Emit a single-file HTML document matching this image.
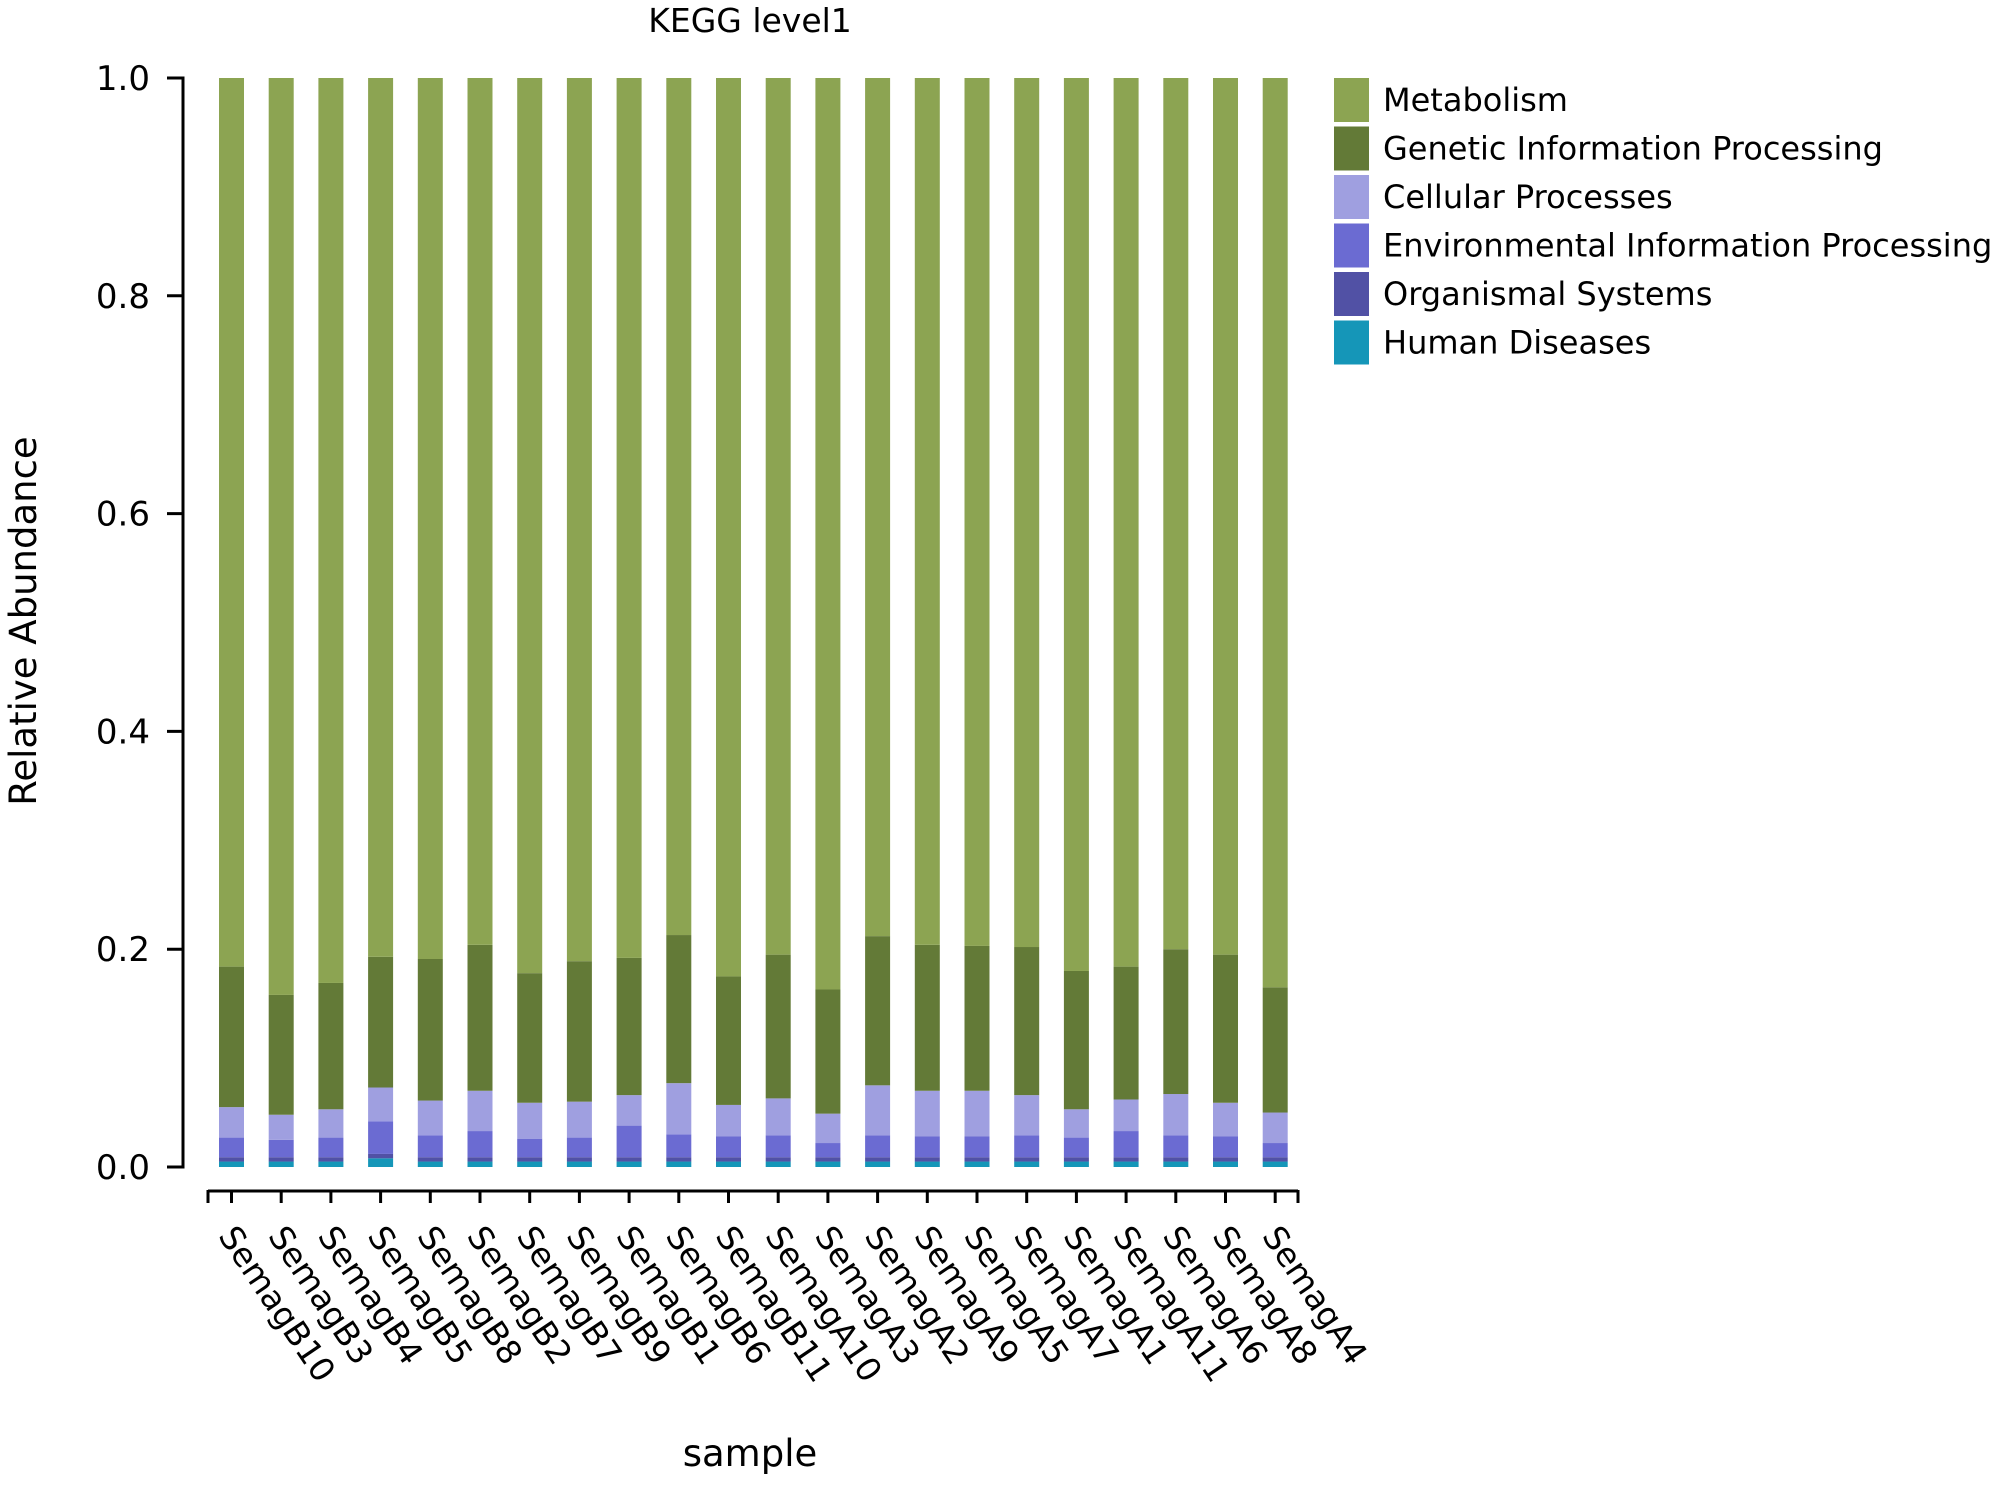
<!DOCTYPE html>
<html><head><meta charset="utf-8"><style>
html,body{margin:0;padding:0;background:#fff;}
svg{display:block;font-family:"DejaVu Sans","Liberation Sans",sans-serif;}
</style></head><body>
<svg id="chart" width="2000" height="1485" viewBox="0 0 2000 1485" xmlns="http://www.w3.org/2000/svg">
<text x="750" y="32" font-size="33" text-anchor="middle">KEGG level1</text>
<text transform="translate(36,621) rotate(-90)" font-size="37" text-anchor="middle">Relative Abundance</text>
<text x="750" y="1466" font-size="37" text-anchor="middle">sample</text>
<g id="bars"></g>
<g id="yaxis"></g>
<g id="xaxis"></g>
<g id="legend"></g>
</svg>
<script>
const samples = ["SemagB10","SemagB3","SemagB4","SemagB5","SemagB8","SemagB2","SemagB7","SemagB9","SemagB1","SemagB6","SemagB11","SemagA10","SemagA3","SemagA2","SemagA9","SemagA5","SemagA7","SemagA1","SemagA11","SemagA6","SemagA8","SemagA4"];
const seriesNames = ["Metabolism","Genetic Information Processing","Cellular Processes","Environmental Information Processing","Organismal Systems","Human Diseases"];
const metabolism = [.816,.842,.831,.807,.809,.796,.822,.811,.808,.787,.825,.805,.837,.788,.796,.797,.798,.820,.816,.800,.805,.835];
const genetic = [.129,.110,.116,.120,.130,.134,.119,.129,.126,.136,.118,.132,.114,.137,.134,.133,.136,.127,.122,.133,.136,.115];
const cellular = [.028,.023,.026,.031,.032,.037,.033,.033,.028,.047,.029,.034,.027,.046,.042,.042,.037,.026,.029,.038,.031,.028];
const environmental = [.018,.016,.018,.030,.020,.024,.017,.018,.029,.021,.019,.020,.013,.020,.019,.019,.020,.018,.024,.020,.019,.013];
const organismal = [.004,.004,.004,.004,.004,.004,.004,.004,.004,.004,.004,.004,.004,.004,.004,.004,.004,.004,.004,.004,.004,.004];
const human = [.005,.005,.005,.008,.005,.005,.005,.005,.005,.005,.005,.005,.005,.005,.005,.005,.005,.005,.005,.005,.005,.005];
const yTicks = [0,0.2,0.4,0.6,0.8,1.0];
const yTickLabels = ["0.0","0.2","0.4","0.6","0.8","1.0"];

const NS="http://www.w3.org/2000/svg";
const colors=["#8ca452","#637a37","#9f9fe0","#6b6bd2","#5151a5","#1596b8"];
const series=[human,organismal,environmental,cellular,genetic,metabolism];
const seriesIdx=[5,4,3,2,1,0];
const y0=1167,y1=78;
function yScale(v){return y0-(y0-y1)*v;}
const x0=231.5,step=49.7,bw=25;
function xScale(i){return x0+i*step;}
function mk(tag,attrs,parent){const e=document.createElementNS(NS,tag);for(const k in attrs)e.setAttribute(k,attrs[k]);parent.appendChild(e);return e;}

const gb=document.getElementById('bars');
samples.forEach((s,i)=>{
  let total=0; series.forEach(a=>total+=a[i]);
  let cum=0;
  series.forEach((a,k)=>{
    const v=a[i]/total;
    const r=mk('rect',{x:xScale(i)-bw/2,y:yScale(cum+v),width:bw,height:yScale(cum)-yScale(cum+v),fill:colors[seriesIdx[k]]},gb);
    
    
    cum+=v;
  });
});

const gy=document.getElementById('yaxis');
const yl=mk('line',{x1:183,y1:yScale(1),x2:183,y2:yScale(0),stroke:'#000','stroke-width':3},gy);


yTicks.forEach((t,i)=>{
  const tk=mk('line',{x1:167,x2:184.5,y1:yScale(t),y2:yScale(t),stroke:'#000','stroke-width':3},gy);
  
  
  const tx=mk('text',{x:150,y:yScale(t)+12,'font-size':34,'text-anchor':'end'},gy);
  tx.textContent=yTickLabels[i];
  
  
});

const gx=document.getElementById('xaxis');
const xl=mk('line',{x1:208,y1:1191,x2:1298,y2:1191,stroke:'#000','stroke-width':3},gx);


[208,1298].forEach(x=>{
  const t=mk('line',{x1:x,x2:x,y1:1190,y2:1203,stroke:'#000','stroke-width':3},gx);
  
  
});
samples.forEach((s,i)=>{
  const t=mk('line',{x1:xScale(i),x2:xScale(i),y1:1190,y2:1203,stroke:'#000','stroke-width':3},gx);
  
  
  const tx=mk('text',{transform:'translate('+(xScale(i)-14)+',1236) rotate(56)','font-size':33},gx);
  tx.textContent=s;
  
  
});

const gl=document.getElementById('legend');
seriesNames.forEach((n,i)=>{
  const cy=100+i*48.5;
  const r=mk('rect',{x:1334,y:cy-22,width:35,height:44,fill:colors[i]},gl);
  
  
  const t=mk('text',{x:1383,y:cy+11,'font-size':32},gl);
  t.textContent=n;
  
  
});
</script>
</body></html>
